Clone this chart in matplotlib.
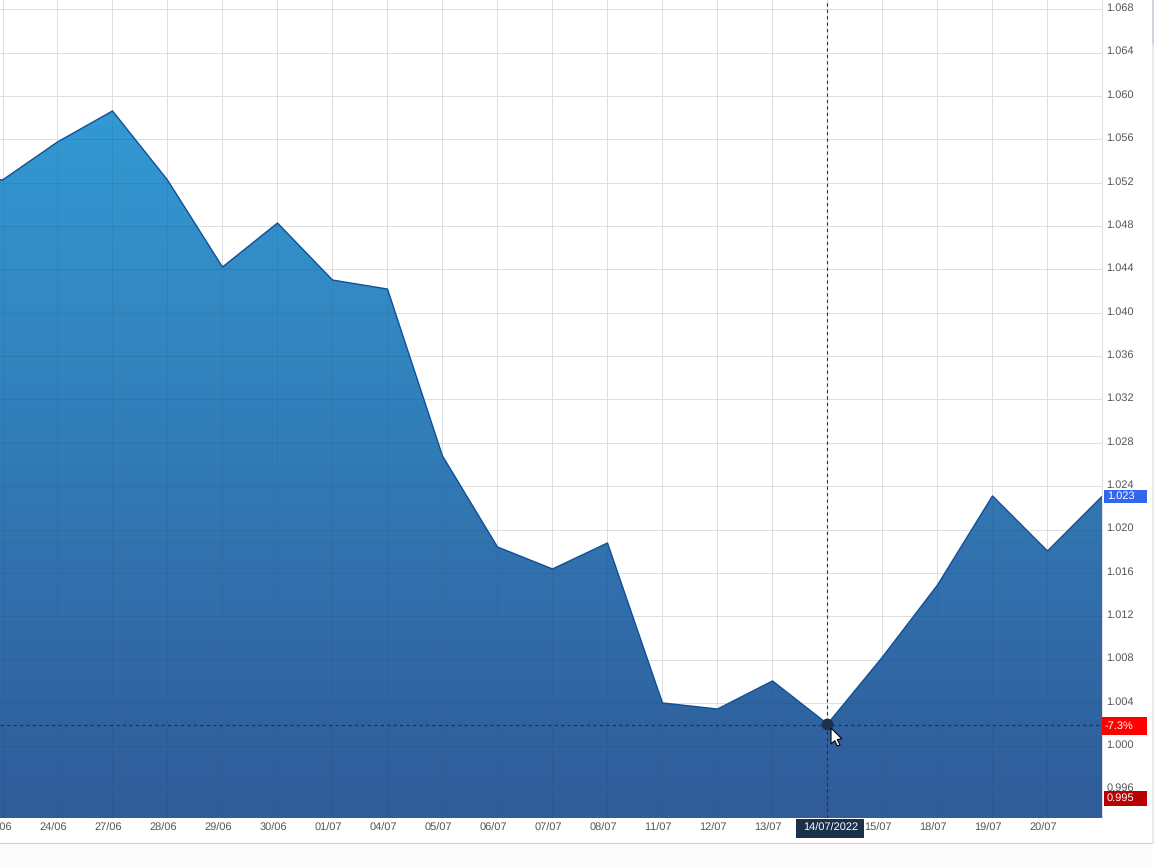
# -*- coding: utf-8 -*-
import numpy as np
import matplotlib
matplotlib.use('Agg')
import matplotlib.pyplot as plt
from matplotlib.colors import LinearSegmentedColormap
from matplotlib.patches import Polygon, Rectangle, PathPatch
from matplotlib.path import Path
from matplotlib.transforms import ScaledTranslation

plt.rcParams['font.family'] = ['Liberation Sans', 'DejaVu Sans']
plt.rcParams['text.hinting'] = 'no_hinting'
plt.rcParams['text.hinting_factor'] = 1

# first value sits just off the left edge
sessions = np.arange(-1, 21)
prices = [1.0530, 1.05225, 1.05576, 1.05862, 1.05225, 1.04422, 1.04828, 1.04302,
          1.04219, 1.02679, 1.01839, 1.01636, 1.01876, 1.00400, 1.00344, 1.00603,
          1.00206, 1.00824, 1.01488, 1.02310, 1.01802, 1.02310]
# 14/07 is covered by the crosshair date tag
date_labels = ['23/06', '24/06', '27/06', '28/06', '29/06', '30/06', '01/07', '04/07',
               '05/07', '06/07', '07/07', '08/07', '11/07', '12/07', '13/07', '',
               '15/07', '18/07', '19/07', '20/07']
price_ticks = np.arange(0.996, 1.0681, 0.004)
cursor_idx = 15
cursor_price = 1.00206
cursor_date = '14/07/2022'
cursor_pct = '-7.3%'
last_price = 1.023
low_price = 0.995

W, H = 1154, 866
fig = plt.figure(figsize=(W / 100, H / 100), dpi=100, facecolor='white')
ax = fig.add_axes([0, (H - 818) / H, 1102 / W, 818 / H])
ax.set_xlim(-2.5 / 55, 1099.5 / 55)
ax.set_ylim(1 - 71.7 / 10838, 1 + 746.3 / 10838)

# grid under the area
ax.set_xticks(np.arange(0, 20))
ax.set_xticklabels(date_labels, fontsize=7.8, color='#555555')
ax.set_yticks(price_ticks)
ax.set_yticklabels(['%.3f' % t for t in price_ticks], fontsize=7.8, color='#555555')
ax.yaxis.tick_right()
ax.tick_params(length=0, pad=3.2)
ax.tick_params(axis='x', pad=3.5)
ax.grid(True, color='#dedede', lw=0.72)
ax.set_axisbelow(True)
for s in ['top', 'left', 'bottom']:
    ax.spines[s].set_visible(False)
ax.spines['right'].set_color('#dedede')
ax.spines['right'].set_linewidth(0.72)

shift_x = ScaledTranslation(-4.5 / 100, 0, fig.dpi_scale_trans)
shift_y = ScaledTranslation(0, 2.3 / 100, fig.dpi_scale_trans)
for lab in ax.get_xticklabels():
    lab.set_transform(lab.get_transform() + shift_x)
for lab in ax.get_yticklabels():
    lab.set_transform(lab.get_transform() + shift_y)

# gradient area
ymin, ymax = ax.get_ylim()
xmin, xmax = ax.get_xlim()
verts = list(zip(sessions, prices)) + [(sessions[-1], ymin), (sessions[0], ymin)]
area = Polygon(verts, closed=True, facecolor='none', edgecolor='none', transform=ax.transData)
ax.add_patch(area)
cmap = LinearSegmentedColormap.from_list('area', ['#3399d2', '#305c9a'])
grad = np.linspace(0, 1, 36).reshape(-1, 1)
img = ax.imshow(grad, cmap=cmap, aspect='auto', extent=(xmin, xmax, ymin, 1.0590),
                interpolation='nearest', zorder=2)
img.set_clip_path(area)
ax.set_xlim(xmin, xmax)
ax.set_ylim(ymin, ymax)

# grid shows faintly through the fill
for t in price_ticks:
    l = ax.axhline(t, color='#123a70', lw=0.72, alpha=0.13, zorder=3)
    l.set_clip_path(area)
for i in np.arange(0, 20):
    l = ax.axvline(i, color='#123a70', lw=0.72, alpha=0.09, zorder=3)
    l.set_clip_path(area)

ax.plot(sessions, prices, color='#0f4f97', lw=1.0, zorder=4)

# crosshair
ax.axvline(cursor_idx, color='#1b304b', lw=0.8, ls=(0, (2.9, 2.9)), zorder=5)
ax.axhline(cursor_price - 0.0001, color='#1b304b', lw=0.8, ls=(0, (2.9, 2.9)), zorder=5)
ax.plot([cursor_idx], [cursor_price], 'o', color='#1b304b', ms=7.5, zorder=6)

# overlay in pixels for tags and frame
ov = fig.add_axes([0, 0, 1, 1], facecolor='none')
ov.set_xlim(0, W)
ov.set_ylim(H, 0)
ov.axis('off')

ov.add_patch(Rectangle((0, 843), 1152, 23, facecolor='#fcfcfc', edgecolor='none'))
ov.plot([0, 1152], [843, 843], color='#c9d3e0', lw=0.8)
ov.plot([1152.5, 1152.5], [0, 45], color='#c5cfdc', lw=1.2)
ov.plot([1152.5, 1152.5], [45, 843], color='#e3e8f0', lw=1.2)


def tag(x0, y0, x1, y1, color, text, tx):
    ov.add_patch(Rectangle((x0, y0), x1 - x0, y1 - y0, facecolor=color, edgecolor='none', zorder=7))
    ov.text(tx, (y0 + y1) / 2, text, color='white', fontsize=7.8, va='center', ha='left', zorder=8)


tag(1104, 490, 1147, 503, '#3366ee', '%.3f' % last_price, 1107)
tag(1102, 717, 1147, 735, '#ff0000', cursor_pct, 1105)
tag(1104, 791, 1147, 806, '#b80000', '%.3f' % low_price, 1107)
ov.add_patch(Rectangle((796, 819), 68, 19, facecolor='#1b304b', edgecolor='none', zorder=7))
ov.text(830.5, 828.5, cursor_date, color='white', fontsize=7.8, ha='center', va='center', zorder=8)

# mouse pointer
pointer = np.array([(0, 0), (0, 16), (3.7, 12.6), (6.3, 18), (9, 17), (6.3, 11.5), (11, 11), (0, 0)])
codes = [Path.MOVETO] + [Path.LINETO] * 6 + [Path.CLOSEPOLY]
ov.add_patch(PathPatch(Path(pointer + np.array([831, 728]), codes), facecolor='white',
                       edgecolor='black', lw=0.8, zorder=9))

plt.savefig('out.png', dpi=100)
